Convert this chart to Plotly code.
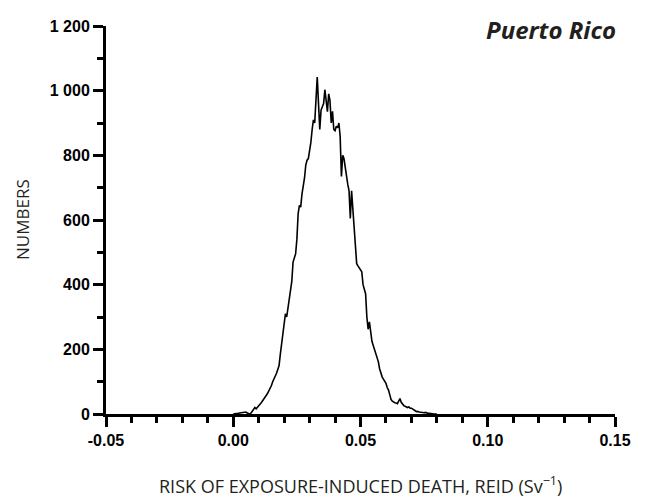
import numpy as np
import plotly.graph_objects as go

# Histogram of simulated REID values (bin width 0.0005 Sv^-1, starting at 0.000)
bin_start = 0.0
bin_width = 0.0005
counts = [
    0, 0, 0, 0, 2, 3, 4, 4, 5, 7,
    6, 3, 1, 0, 3, 8, 14, 20, 16, 22,
    26, 30, 35, 40, 48, 52, 58, 64, 72, 76,
    88, 100, 108, 118, 126, 138, 150, 185, 215, 250,
    285, 310, 300, 325, 350, 370, 410, 470, 480, 495,
    540, 620, 645, 640, 680, 700, 730, 770, 785, 790,
    810, 840, 880, 910, 900, 960, 1042, 960, 880, 940,
    950, 960, 1003, 960, 935, 990, 970, 900, 936, 880,
    876, 890, 885, 900, 860, 735, 800, 790, 760, 740,
    710, 690, 605, 690, 640, 580, 520, 465, 458, 452,
    448, 440, 400, 380, 372, 300, 262, 285, 250, 225,
    212, 200, 190, 175, 162, 140, 125, 115, 108, 102,
    95, 82, 74, 60, 45, 40, 36, 35, 34, 32,
    40, 48, 36, 30, 26, 24, 22, 20, 22, 18,
    18, 16, 12, 10, 7, 8, 6, 5, 6, 5,
    4, 5, 3, 2, 2, 1, 0, 0, 0, 0, 0,
]
risk = bin_start + bin_width * np.arange(len(counts))

x_ticks = [-0.05, 0.00, 0.05, 0.10, 0.15]
x_ticklabels = ["-0.05", "0.00", "0.05", "0.10", "0.15"]
y_ticks = [0, 200, 400, 600, 800, 1000, 1200]
y_ticklabels = ["0", "200", "400", "600", "800", "1 000", "1 200"]

fig = go.Figure()
fig.add_trace(go.Scatter(
    x=risk, y=counts, mode="lines",
    line=dict(color="black", width=1.6),
    hoverinfo="skip", showlegend=False,
))

tickfont = dict(family="Liberation Sans, Arial, sans-serif", size=16, color="black", weight="bold")

# page body has an 8px default margin; the figure is sized so it fits the 646x497 window
fig.update_layout(
    width=638, height=489,
    margin=dict(l=98, r=31, t=10, b=83),
    paper_bgcolor="white", plot_bgcolor="white",
    xaxis=dict(
        range=[-0.05, 0.15], tickvals=x_ticks, ticktext=x_ticklabels,
        showline=True, linecolor="black", linewidth=3,
        ticks="outside", ticklen=10, tickwidth=3, tickcolor="black",
        minor=dict(dtick=0.01, tick0=0, ticks="outside", ticklen=6, tickwidth=3, tickcolor="black"),
        showgrid=False, zeroline=False, tickfont=tickfont,
    ),
    yaxis=dict(
        range=[0, 1200], tickvals=y_ticks, ticktext=y_ticklabels,
        showline=True, linecolor="black", linewidth=3,
        ticks="outside", ticklen=10, tickwidth=3, tickcolor="black",
        minor=dict(dtick=100, tick0=0, ticks="outside", ticklen=6, tickwidth=3, tickcolor="black"),
        showgrid=False, zeroline=False, tickfont=tickfont,
    ),
    annotations=[
        dict(text="RISK OF EXPOSURE-INDUCED DEATH, REID (Sv<sup>\u22121</sup>)",
             xref="paper", yref="paper", x=0.5, y=-(486 - 414) / 396,
             xanchor="center", yanchor="middle", showarrow=False,
             font=dict(family="Open Sans, sans-serif", size=18, color="#231f20")),
        dict(text="NUMBERS", textangle=-90,
             xref="paper", yref="paper", x=-(106 - 22) / 509, y=(414 - 216) / 396,
             xanchor="center", yanchor="middle", showarrow=False,
             font=dict(family="Open Sans, sans-serif", size=17, color="#231f20")),
        dict(text="<b><i>Puerto Rico</i></b>",
             xref="paper", yref="paper", x=(618 - 106) / 509, y=(414 - 22) / 396,
             xanchor="right", yanchor="middle", showarrow=False,
             font=dict(family="Open Sans, sans-serif", size=24, color="#231f20")),
    ],
)

fig.write_html("out.html")
